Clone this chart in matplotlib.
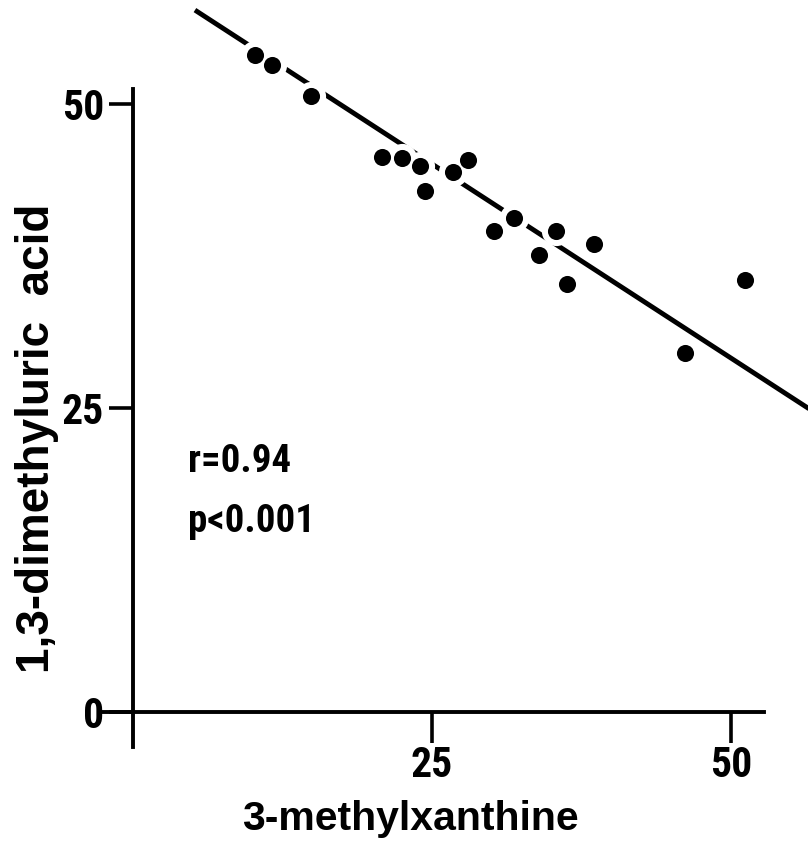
import matplotlib
matplotlib.use("Agg")
import matplotlib.pyplot as plt
import numpy as np

# ---- data ----
x_methylxanthine = [10.20, 11.65, 14.88, 20.82, 22.52, 23.97, 24.44, 26.78, 28.01,
                    30.21, 31.86, 33.95, 35.37, 36.29, 38.57, 46.13, 51.14]
y_dimethyluric = [53.99, 53.16, 50.64, 45.58, 45.55, 44.86, 42.84, 44.40, 45.36,
                  39.52, 40.62, 37.55, 39.50, 35.17, 38.48, 29.47, 35.52]
fit_slope = -0.638
fit_intercept = 60.98
fit_x_range = [5.18, 57.0]
x_ticks = [25, 50]
y_ticks = [0, 25, 50]
x_label = "3-methylxanthine"
y_label = "1,3-dimethyluric  acid"
stats_text = ["r=0.94", "p<0.001"]

LABEL_FONT = ['Liberation Sans', 'DejaVu Sans']
COND_FONT = ['Roboto Condensed', 'Liberation Sans', 'DejaVu Sans']
plt.rcParams['font.family'] = LABEL_FONT
plt.rcParams['font.weight'] = 'bold'

W, H = 808, 848
fig = plt.figure(figsize=(W / 100, H / 100), dpi=100)
ax = fig.add_axes([0, 0, 1, 1])

x0_px, xs = 133, 11.96
y0_px, ys = 712, 12.17
ax.set_xlim(-x0_px / xs, (W - x0_px) / xs)
ax.set_ylim(-(H - y0_px) / ys, y0_px / ys)

fx = np.array(fit_x_range)
ax.plot(fx, fit_slope * fx + fit_intercept, color='black', lw=3.5,
        solid_capstyle='butt', zorder=2)

ax.scatter(x_methylxanthine, y_dimethyluric, s=21**2, color='white', zorder=3,
           linewidths=0)
ax.scatter(x_methylxanthine, y_dimethyluric, s=12.3**2, color='black', zorder=4,
           linewidths=0)

for s in ['top', 'right']:
    ax.spines[s].set_visible(False)
ax.spines['left'].set_position(('data', 0))
ax.spines['bottom'].set_position(('data', 0))
ax.spines['left'].set_bounds(-(747 - y0_px) / ys, (y0_px - 89) / ys)
ax.spines['bottom'].set_bounds(-(x0_px - 103) / xs, (764 - x0_px) / xs)
ax.spines['left'].set_linewidth(2.8)
ax.spines['bottom'].set_linewidth(2.8)
ax.patch.set_visible(False)

ax.set_xticks(x_ticks)
ax.set_yticks(y_ticks)
ax.set_xticklabels([str(v) for v in x_ticks])
ax.set_yticklabels([str(v) for v in y_ticks])
ax.tick_params(axis='y', direction='out', length=17, width=2.6, pad=4,
               labelsize=30)
ax.tick_params(axis='x', direction='out', length=22, width=2.6, pad=2,
               labelsize=30)
for lab in ax.get_xticklabels() + ax.get_yticklabels():
    lab.set_fontweight('bold')
    lab.set_fontfamily(COND_FONT)

fig.text(410 / W, 1 - 830 / H, x_label, ha='center', va='baseline',
         fontsize=29.5, fontweight='bold')
fig.text(49 / W, 1 - 438 / H, y_label, ha='center', va='baseline',
         rotation=90, rotation_mode='anchor', fontsize=33, fontweight='bold')

fig.text(188 / W, 1 - 462 / H, stats_text[0], ha='left', va='center',
         fontsize=28, fontweight='bold', family=COND_FONT)
fig.text(188 / W, 1 - 522 / H, stats_text[1], ha='left', va='center',
         fontsize=28, fontweight='bold', family=COND_FONT)

fig.savefig("out.png", dpi=100)
